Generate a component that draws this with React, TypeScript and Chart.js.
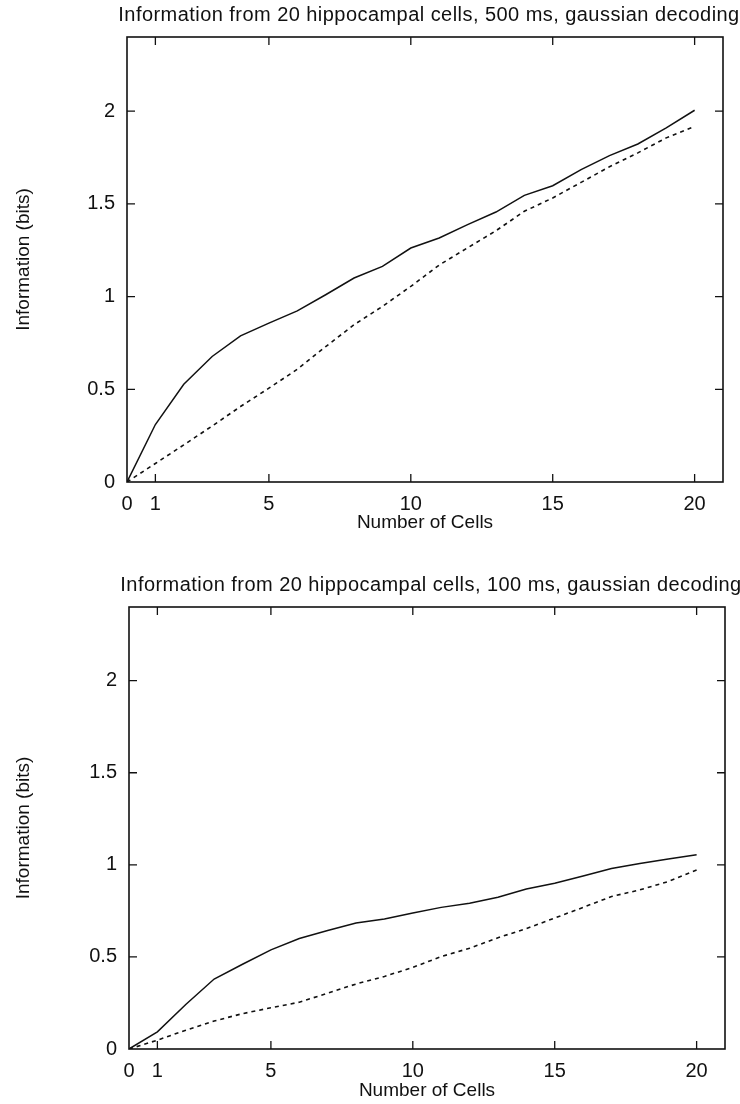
import React, { useEffect, useRef } from "react";
import { Chart, registerables } from "chart.js";

Chart.register(...registerables);

// Number of cells in the decoded ensemble
const CELLS = [0, 1, 2, 3, 4, 5, 6, 7, 8, 9, 10, 11, 12, 13, 14, 15, 16, 17, 18, 19, 20];

// 500 ms window: full gaussian decoding (solid) and independent-cell estimate (dashed)
const INFO_500_SOLID = [0, 0.31, 0.527, 0.677, 0.788, 0.857, 0.923, 1.01, 1.1, 1.163, 1.262,
  1.316, 1.388, 1.456, 1.546, 1.598, 1.685, 1.76, 1.823, 1.91, 2.005];
const INFO_500_DASHED = [0, 0.1, 0.2, 0.302, 0.407, 0.506, 0.608, 0.73, 0.848, 0.947, 1.055,
  1.17, 1.263, 1.355, 1.46, 1.532, 1.616, 1.7, 1.775, 1.856, 1.918];

// 100 ms window
const INFO_100_SOLID = [0, 0.093, 0.242, 0.38, 0.46, 0.538, 0.6, 0.643, 0.684, 0.706, 0.738,
  0.769, 0.792, 0.824, 0.869, 0.9, 0.939, 0.98, 1.007, 1.032, 1.055];
const INFO_100_DASHED = [0, 0.048, 0.102, 0.152, 0.192, 0.224, 0.254, 0.303, 0.353, 0.394, 0.443,
  0.502, 0.547, 0.604, 0.654, 0.711, 0.769, 0.828, 0.864, 0.909, 0.972];

const X_TICKS = [0, 1, 5, 10, 15, 20];
const Y_TICKS = [0, 0.5, 1, 1.5, 2];

const TITLE_500 = "Information from 20 hippocampal cells, 500 ms, gaussian decoding";
const TITLE_100 = "Information from 20 hippocampal cells, 100 ms, gaussian decoding";
const X_LABEL = "Number of Cells";
const Y_LABEL = "Information (bits)";

const FONT_FAMILY = "'Liberation Sans', Arial, Helvetica, sans-serif";
const LABEL_SIZE = 19;
const TICK_SIZE = 20;
const HEADING_SIZE = 20;
const WIDTH = 740;

type Box = { left: number; right: number; top: number; bottom: number };

type PanelProps = {
  title: string;
  solid: number[];
  dashed: number[];
  height: number;
  box: Box;
  titleY: number;
  xTitlePad: number;
};

// Boxed frame with inward tick marks on all four sides, plus the panel heading
const framePlugin = {
  id: "frame",
  afterDatasetsDraw(chart: any, _args: any, opts: any) {
    const { ctx, chartArea } = chart;
    const xs = chart.scales.x;
    const ys = chart.scales.y;
    const { left, right, top, bottom } = chartArea;
    const len = 8;
    ctx.save();
    ctx.strokeStyle = "#111";
    ctx.lineWidth = 1.6;
    ctx.strokeRect(left, top, right - left, bottom - top);
    ctx.lineWidth = 1.3;
    ctx.beginPath();
    X_TICKS.forEach((v) => {
      if (v === xs.min) return;
      const px = xs.getPixelForValue(v);
      ctx.moveTo(px, bottom);
      ctx.lineTo(px, bottom - len);
      ctx.moveTo(px, top);
      ctx.lineTo(px, top + len);
    });
    Y_TICKS.forEach((v) => {
      if (v === ys.min) return;
      const py = ys.getPixelForValue(v);
      ctx.moveTo(left, py);
      ctx.lineTo(left + len, py);
      ctx.moveTo(right, py);
      ctx.lineTo(right - len, py);
    });
    ctx.stroke();

    ctx.fillStyle = "#111";
    ctx.font = `${HEADING_SIZE}px ${FONT_FAMILY}`;
    ctx.letterSpacing = "0.45px";
    ctx.textAlign = "center";
    ctx.textBaseline = "middle";
    ctx.fillText(opts.text, (left + right) / 2 + 4, opts.y);
    ctx.restore();
  },
};

function Panel({ title, solid, dashed, height, box, titleY, xTitlePad }: PanelProps) {
  const ref = useRef<HTMLCanvasElement | null>(null);

  useEffect(() => {
    if (!ref.current) return;
    const labelFont = { family: FONT_FAMILY, size: LABEL_SIZE };
    const tickFont = { family: FONT_FAMILY, size: TICK_SIZE };
    const chart = new Chart(ref.current, {
      type: "line",
      data: {
        datasets: [
          {
            label: "gaussian",
            data: CELLS.map((c, i) => ({ x: c, y: solid[i] })),
            borderColor: "#111",
            borderWidth: 1.5,
            pointRadius: 0,
            tension: 0,
          },
          {
            label: "independent",
            data: CELLS.map((c, i) => ({ x: c, y: dashed[i] })),
            borderColor: "#111",
            borderWidth: 1.6,
            borderDash: [4, 4],
            pointRadius: 0,
            tension: 0,
          },
        ],
      },
      options: {
        animation: false,
        responsive: false,
        devicePixelRatio: 1,
        layout: {
          padding: { top: box.top, right: WIDTH - box.right, left: 0, bottom: 0 },
        },
        plugins: {
          legend: { display: false },
          tooltip: { enabled: false },
          title: { display: false },
          frame: { text: title, y: titleY },
        } as any,
        scales: {
          x: {
            type: "linear",
            min: 0,
            max: 21,
            afterBuildTicks: (s: any) => {
              s.ticks = X_TICKS.map((v) => ({ value: v }));
            },
            afterFit: (s: any) => {
              s.height = height - box.bottom;
            },
            grid: { display: false, drawTicks: false },
            border: { display: false },
            ticks: {
              color: "#111",
              font: tickFont,
              padding: 10,
              maxRotation: 0,
              autoSkip: false,
              callback: (v: any) => String(v),
            },
            title: {
              display: true,
              text: X_LABEL,
              color: "#111",
              font: labelFont,
              padding: { top: 0, bottom: xTitlePad },
            },
          },
          y: {
            type: "linear",
            min: 0,
            max: 2.4,
            afterBuildTicks: (s: any) => {
              s.ticks = Y_TICKS.map((v) => ({ value: v }));
            },
            afterFit: (s: any) => {
              s.width = box.left;
            },
            grid: { display: false, drawTicks: false },
            border: { display: false },
            ticks: {
              color: "#111",
              font: tickFont,
              padding: 12,
              autoSkip: false,
              callback: (v: any) => String(v),
            },
            title: {
              display: true,
              text: Y_LABEL,
              color: "#111",
              font: labelFont,
              padding: { top: 12, bottom: 0 },
            },
          },
        },
      } as any,
      plugins: [framePlugin],
    });
    return () => chart.destroy();
  }, [title, solid, dashed, height, box, titleY, xTitlePad]);

  return (
    <canvas
      ref={ref}
      width={WIDTH}
      height={height}
      style={{ display: "block", width: WIDTH, height }}
    />
  );
}

const TOP_BOX: Box = { left: 127, right: 723, top: 37, bottom: 482 };
const BOTTOM_BOX: Box = { left: 129, right: 725, top: 47, bottom: 489 };

export default function App() {
  return (
    <div
      style={{
        position: "fixed",
        left: 0,
        top: 0,
        width: WIDTH,
        height: 1104,
        background: "#fff",
      }}
    >
      <Panel
        title={TITLE_500}
        solid={INFO_500_SOLID}
        dashed={INFO_500_DASHED}
        height={560}
        box={TOP_BOX}
        titleY={15}
        xTitlePad={25.6}
      />
      <Panel
        title={TITLE_100}
        solid={INFO_100_SOLID}
        dashed={INFO_100_DASHED}
        height={544}
        box={BOTTOM_BOX}
        titleY={25}
        xTitlePad={1.6}
      />
    </div>
  );
}
